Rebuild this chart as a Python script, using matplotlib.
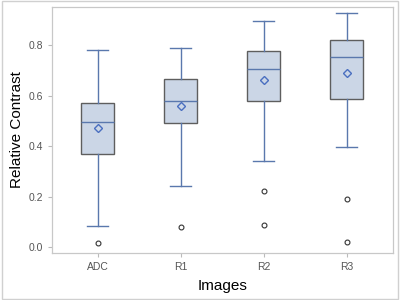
import matplotlib.pyplot as plt
from matplotlib.patches import Rectangle

plt.rcParams["font.family"] = ["Liberation Sans", "DejaVu Sans"]

# values
groups = ["ADC", "R1", "R2", "R3"]
whis_lo = [0.083, 0.242, 0.342, 0.397]
q1 = [0.369, 0.493, 0.581, 0.586]
median = [0.497, 0.581, 0.706, 0.752]
q3 = [0.570, 0.667, 0.777, 0.821]
whis_hi = [0.781, 0.790, 0.895, 0.928]
mean = [0.474, 0.560, 0.664, 0.691]
outliers = [[0.017], [0.078], [0.224, 0.088], [0.191, 0.020]]

FILL = "#cbd6e6"
EDGE = "#5e5e5e"
BLUE = "#5a78ad"

stats = [dict(label=g, whislo=wl, q1=a, med=m, q3=b, whishi=wh, mean=mu, fliers=f)
         for g, wl, a, m, b, wh, mu, f in zip(groups, whis_lo, q1, median, q3,
                                               whis_hi, mean, outliers)]

fig = plt.figure(figsize=(4, 3), dpi=100)
ax = fig.add_axes([0.13, 0.157, 0.853, 0.82])

ax.bxp(stats, widths=0.4, showmeans=True, patch_artist=True,
       boxprops=dict(facecolor=FILL, edgecolor=EDGE, lw=1.0),
       medianprops=dict(color=BLUE, lw=1.0),
       whiskerprops=dict(color=BLUE, lw=1.0),
       capprops=dict(color=BLUE, lw=1.0),
       capwidths=0.25,
       meanprops=dict(marker="D", markerfacecolor="none", markeredgecolor="#4a6fc0",
                      markersize=4.5, markeredgewidth=1.0),
       flierprops=dict(marker="o", markerfacecolor="none", markeredgecolor="#333333",
                       markersize=3.5, markeredgewidth=0.8))

ax.set_xlim(0.45, 4.56)
ax.set_ylim(-0.023, 0.952)
ax.set_yticks([0.0, 0.2, 0.4, 0.6, 0.8])
ax.set_yticklabels(["0.0", "0.2", "0.4", "0.6", "0.8"])
ax.tick_params(labelsize=7.5, colors="#bbbbbb", labelcolor="#555555", length=3, width=0.8)
for s in ax.spines.values():
    s.set_color("#c8c8c8")
    s.set_linewidth(0.9)

ax.set_xlabel("Images", fontsize=11, color="black", labelpad=5)
ax.set_ylabel("Relative Contrast", fontsize=11, color="black", labelpad=3)

fig.patches.append(Rectangle((0.004, 0.004), 0.992, 0.992, transform=fig.transFigure,
                             fill=False, edgecolor="#d0d0d0", lw=1.0))

fig.savefig("out.png", dpi=100)
